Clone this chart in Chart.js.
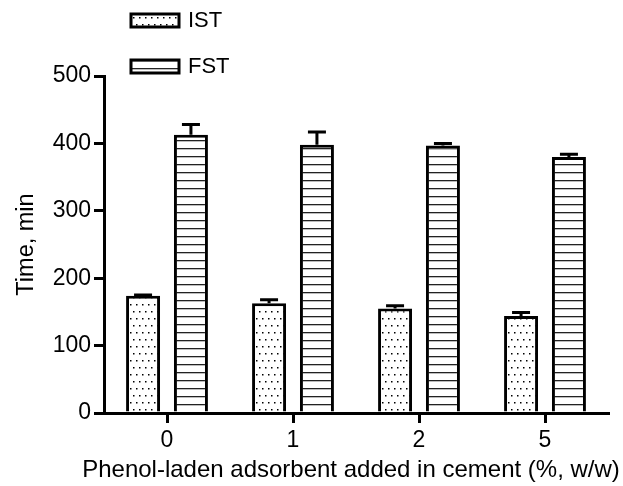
<!DOCTYPE html>
<html>
<head>
<meta charset="utf-8">
<script src="https://cdn.jsdelivr.net/npm/chart.js@4.4.0/dist/chart.umd.min.js"></script>
<style>
html, body { margin: 0; padding: 0; background: #fff; }
</style>
</head>
<body>
<canvas id="myChart" width="623" height="486"></canvas>
<script>
const categories = ['0', '1', '2', '5']
const istValues = [174, 163, 155, 144]
const istErrors = [1, 5, 4, 5]
const fstValues = [413, 398, 397, 380]
const fstErrors = [15, 19, 3, 4]
const yTicks = [0, 100, 200, 300, 400, 500]
const xTitle = 'Phenol-laden adsorbent added in cement (%, w/w)'

const FONT = "'Liberation Sans', Arial, sans-serif"
Chart.defaults.font.family = FONT
Chart.defaults.color = '#000'

// hatch fills
function dotPattern() {
    const c = document.createElement('canvas')
    c.width = 6
    c.height = 14
    const g = c.getContext('2d')
    g.fillStyle = '#fff'
    g.fillRect(0, 0, 6, 14)
    g.fillStyle = '#000'
    g.fillRect(1, 3, 1.5, 1.5)
    g.fillRect(4, 10, 1.5, 1.5)
    return g.createPattern(c, 'repeat')
}

function linePattern() {
    const c = document.createElement('canvas')
    c.width = 8
    c.height = 8
    const g = c.getContext('2d')
    g.fillStyle = '#fff'
    g.fillRect(0, 0, 8, 8)
    g.fillStyle = '#222'
    g.fillRect(0, 4, 8, 1.3)
    return g.createPattern(c, 'repeat')
}

const errorBars = {
    id: 'errorBars',
    afterDatasetsDraw(chart) {
        const ctx = chart.ctx
        const y = chart.scales.y
        ctx.save()
        ctx.strokeStyle = '#000'
        ctx.lineWidth = 3
        chart.data.datasets.forEach((ds, i) => {
            chart.getDatasetMeta(i).data.forEach((bar, j) => {
                const base = y.getPixelForValue(ds.data[j])
                const top = y.getPixelForValue(ds.data[j] + ds.errors[j])
                ctx.beginPath()
                ctx.moveTo(bar.x, base)
                ctx.lineTo(bar.x, top)
                ctx.moveTo(bar.x - 9, top)
                ctx.lineTo(bar.x + 9, top)
                ctx.stroke()
            })
        })
        ctx.restore()
    }
}

// legend stacked above the plot + x title wider than the chart area
const extras = {
    id: 'extras',
    afterDraw(chart) {
        const ctx = chart.ctx
        ctx.save()
        chart.data.datasets.forEach((ds, i) => {
            const top = 14 + i * 46
            ctx.fillStyle = ds.backgroundColor
            ctx.fillRect(131, top, 48, 13)
            ctx.strokeStyle = '#000'
            ctx.lineWidth = 3
            ctx.strokeRect(131, top, 48, 13)
            ctx.fillStyle = '#000'
            ctx.font = '22px ' + FONT
            ctx.textBaseline = 'middle'
            ctx.textAlign = 'left'
            ctx.fillText(ds.label, 188, top + 7)
        })
        ctx.font = '24px ' + FONT
        ctx.textAlign = 'center'
        ctx.textBaseline = 'middle'
        ctx.fillText(xTitle, 351, 470)
        ctx.restore()
    }
}

const ctx = document.getElementById('myChart').getContext('2d')

const myChart = new Chart(ctx, {
    type: 'bar',
    data: {
        labels: categories,
        datasets: [{
            label: 'IST',
            data: istValues,
            errors: istErrors,
            backgroundColor: dotPattern(),
            borderColor: '#000',
            borderWidth: 3
        }, {
            label: 'FST',
            data: fstValues,
            errors: fstErrors,
            backgroundColor: linePattern(),
            borderColor: '#000',
            borderWidth: 3
        }]
    },
    options: {
        responsive: false,
        animation: false,
        devicePixelRatio: 1,
        categoryPercentage: 0.76,
        barPercentage: 0.71,
        layout: { padding: { left: 0, right: 15, top: 76, bottom: 0 } },
        plugins: {
            legend: { display: false },
            tooltip: { enabled: false }
        },
        scales: {
            x: {
                grid: { offset: false, drawOnChartArea: false, drawTicks: true, tickLength: 10, lineWidth: 3, color: '#000' },
                border: { display: true, width: 3, color: '#000' },
                ticks: { font: { size: 23 }, padding: 4, color: '#000' },
                afterFit: s => { s.height = 73 }
            },
            y: {
                min: 0,
                max: 500,
                afterBuildTicks: s => { s.ticks = yTicks.map(v => ({ value: v })) },
                grid: { drawOnChartArea: false, drawTicks: true, tickLength: 10, lineWidth: 3, color: '#000' },
                border: { display: true, width: 3, color: '#000' },
                ticks: { font: { size: 23 }, padding: 3, color: '#000' },
                title: { display: true, text: 'Time, min', font: { size: 23.5 }, padding: { top: 12, bottom: 0 }, color: '#000' },
                afterFit: s => { s.width = 104 }
            }
        }
    },
    plugins: [errorBars, extras]
})
</script>
</body>
</html>
